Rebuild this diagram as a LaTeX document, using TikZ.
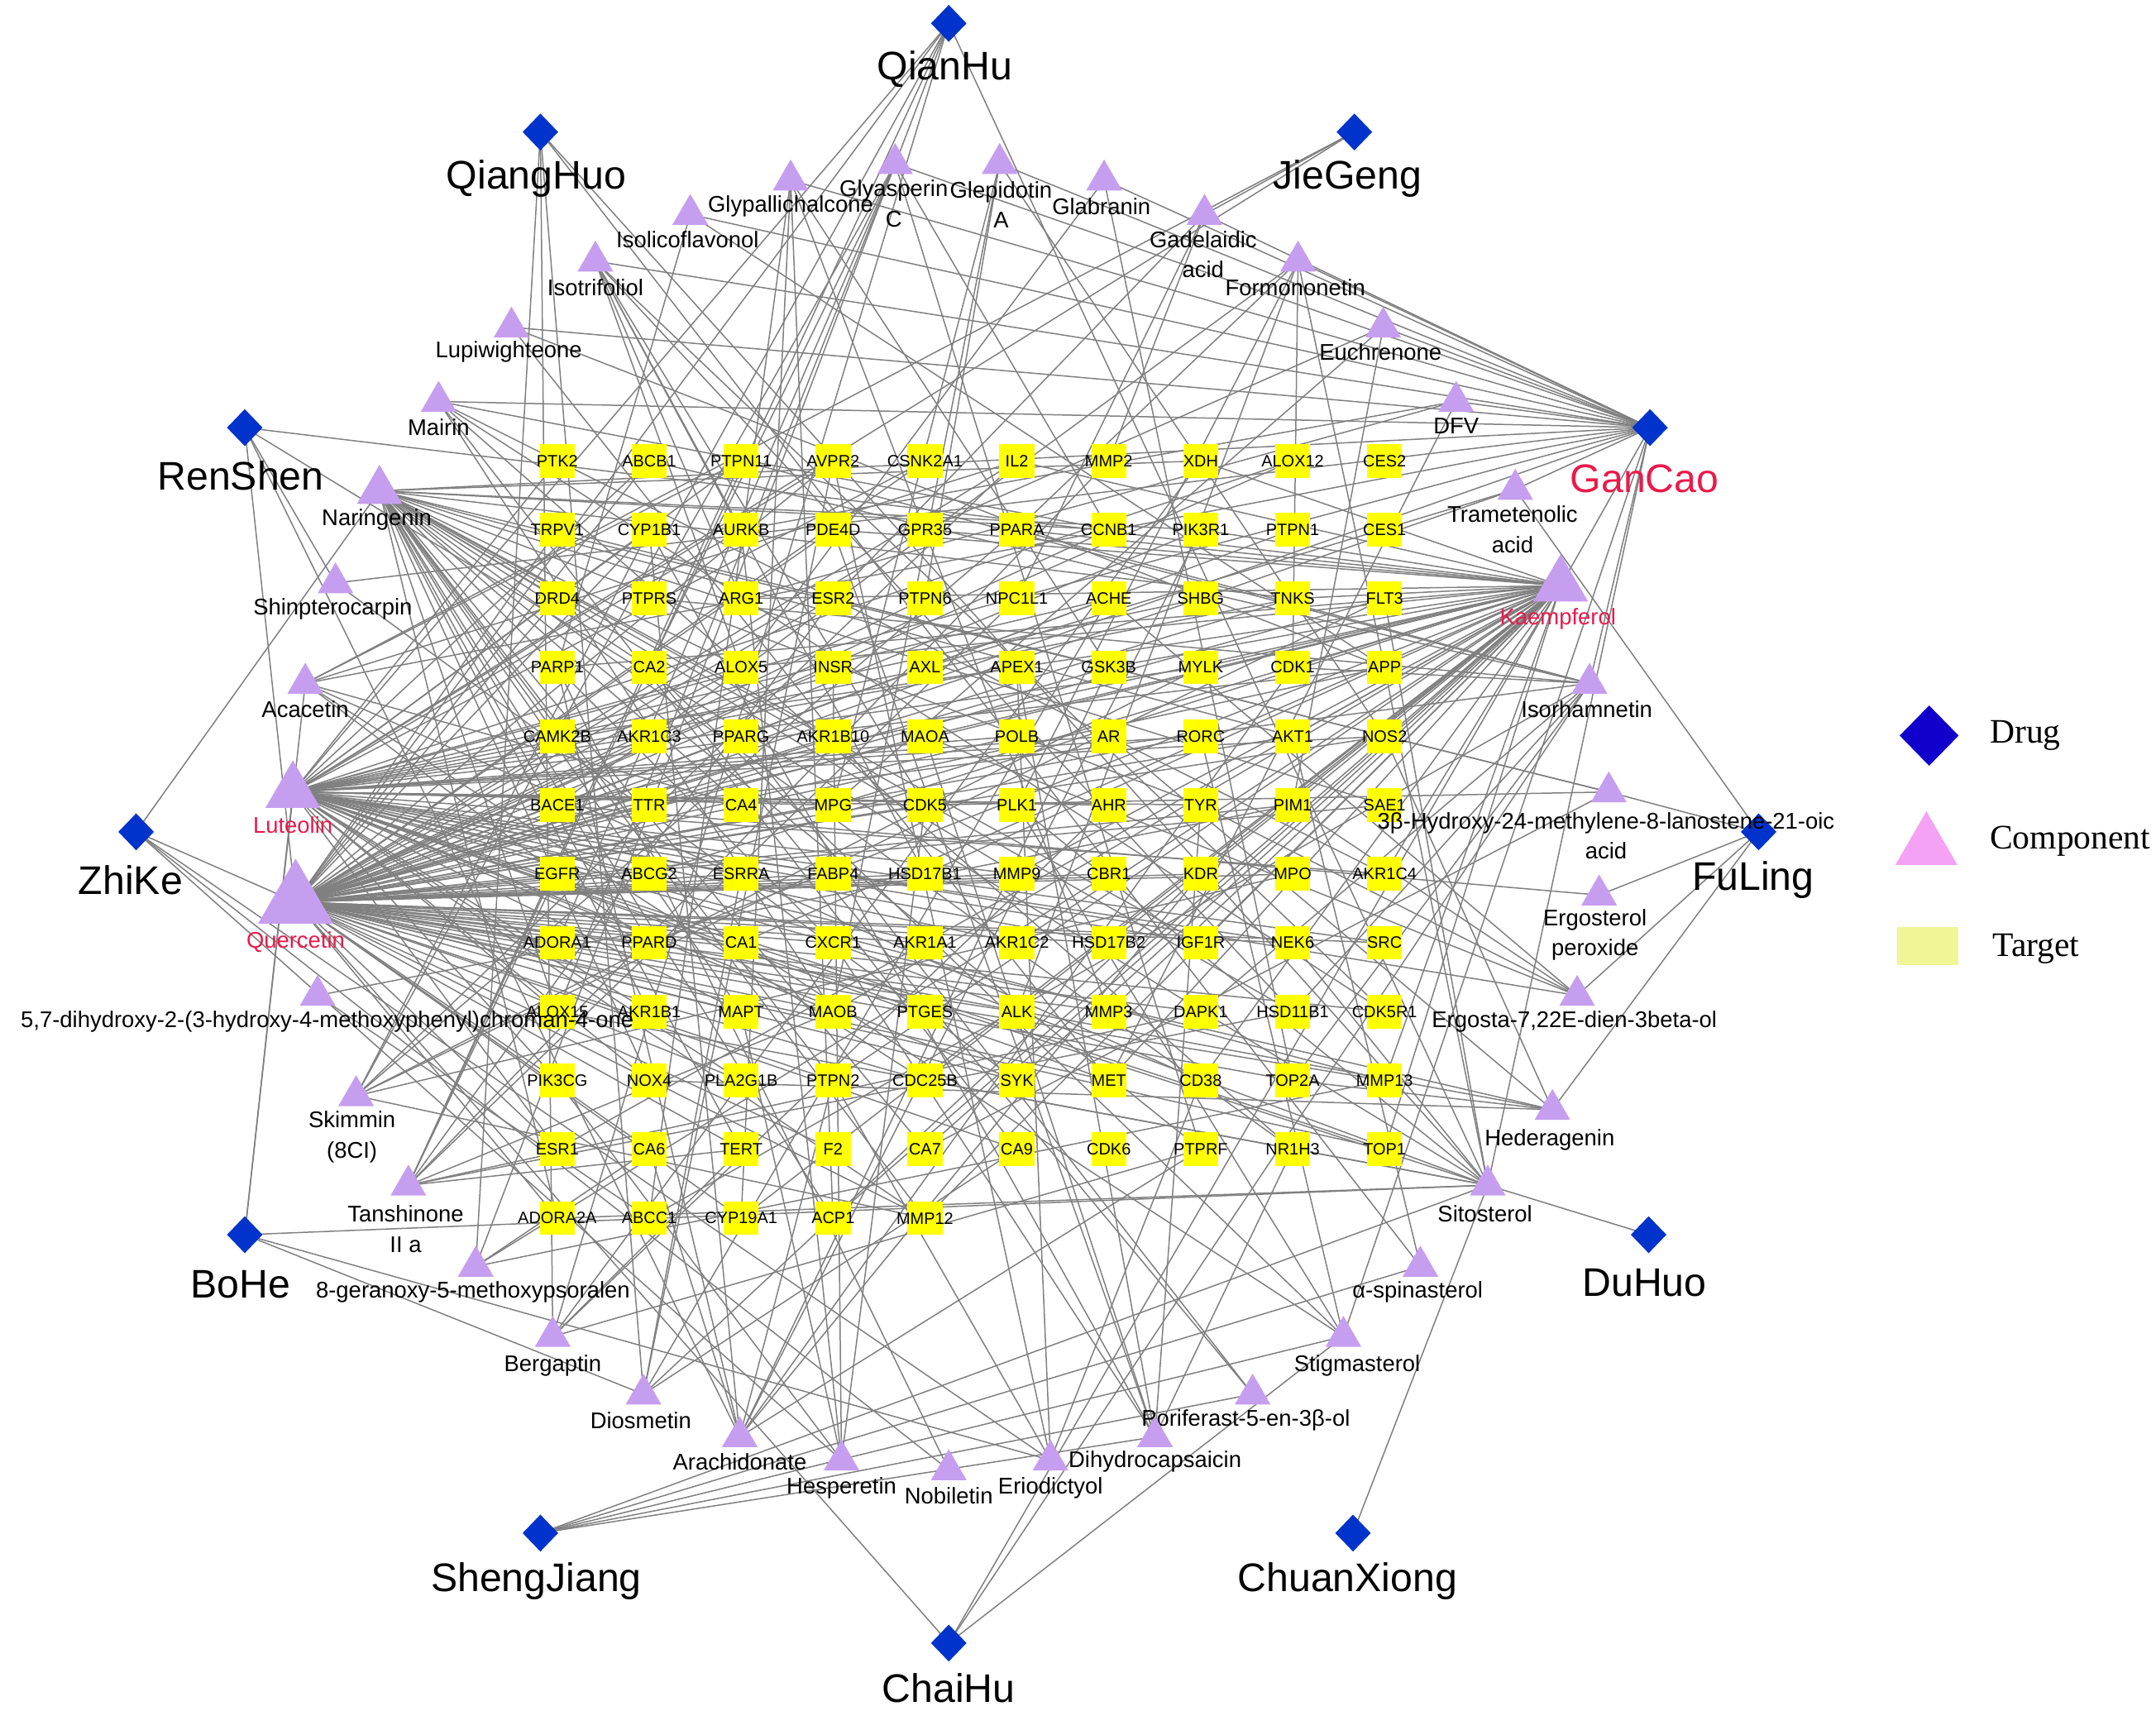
\documentclass[tikz,border=0pt]{standalone}
\usepackage{fontspec}
\setmainfont{Liberation Sans}
\newfontfamily\legendfont{Liberation Serif}
\usetikzlibrary{shapes.geometric,backgrounds}
\definecolor{drugblue}{RGB}{0,51,204}
\definecolor{legblue}{RGB}{17,0,204}
\definecolor{compviolet}{RGB}{198,158,240}
\definecolor{legpink}{RGB}{245,162,245}
\definecolor{tyellow}{RGB}{255,255,0}
\definecolor{legyellow}{RGB}{240,245,150}
\definecolor{hired}{RGB}{235,25,75}
\definecolor{edgegray}{RGB}{128,128,128}
\tikzset{
 drug/.style={diamond, fill=drugblue, inner sep=0pt, minimum width=26pt, minimum height=27pt},
 druglab/.style={font=\fontsize{29}{32}\selectfont, inner sep=0pt},
 comp/.style={regular polygon, regular polygon sides=3, fill=compviolet, inner sep=0pt, minimum size=#1},
 comp/.default=30pt,
 complab/.style={font=\fontsize{16.5}{22}\selectfont, inner sep=0pt, align=center},
 redlab/.style={complab, text=hired},
 tgt/.style={rectangle, fill=tyellow, inner sep=0pt, minimum width=25.5pt, minimum height=24.5pt},
 tlab/.style={font=\fontsize{12}{13}\selectfont, inner sep=0pt},
 link/.style={draw=edgegray, line width=0.9pt},
 legtext/.style={anchor=west, font=\legendfont\fontsize{25}{28}\selectfont, inner sep=0pt},
}
\newcommand\linkrand[2]{%
  \foreach \j in {1,...,115}{%
    \pgfmathtruncatemacro\hit{rnd<#2}%
    \ifnum\hit=1 \draw[link] (#1.center) -- (t\j.center);\fi
  }%
}
\begin{document}
\begin{tikzpicture}[x=1pt,y=-1pt]
\useasboundingbox (0,0) rectangle (1568,1244);
\begin{pgfonlayer}{background}
\fill[white] (0,0) rectangle (1568,1244);
\end{pgfonlayer}

% ---------- targets ----------
\foreach \tname [count=\i] in {PTK2,ABCB1,PTPN11,AVPR2,CSNK2A1,IL2,MMP2,XDH,ALOX12,CES2,
TRPV1,CYP1B1,AURKB,PDE4D,GPR35,PPARA,CCNB1,PIK3R1,PTPN1,CES1,
DRD4,PTPRS,ARG1,ESR2,PTPN6,NPC1L1,ACHE,SHBG,TNKS,FLT3,
PARP1,CA2,ALOX5,INSR,AXL,APEX1,GSK3B,MYLK,CDK1,APP,
CAMK2B,AKR1C3,PPARG,AKR1B10,MAOA,POLB,AR,RORC,AKT1,NOS2,
BACE1,TTR,CA4,MPG,CDK5,PLK1,AHR,TYR,PIM1,SAE1,
EGFR,ABCG2,ESRRA,FABP4,HSD17B1,MMP9,CBR1,KDR,MPO,AKR1C4,
ADORA1,PPARD,CA1,CXCR1,AKR1A1,AKR1C2,HSD17B2,IGF1R,NEK6,SRC,
ALOX15,AKR1B1,MAPT,MAOB,PTGES,ALK,MMP3,DAPK1,HSD11B1,CDK5R1,
PIK3CG,NOX4,PLA2G1B,PTPN2,CDC25B,SYK,MET,CD38,TOP2A,MMP13,
ESR1,CA6,TERT,F2,CA7,CA9,CDK6,PTPRF,NR1H3,TOP1,
ADORA2A,ABCC1,CYP19A1,ACP1,MMP12}{%
  \pgfmathsetmacro\tx{405.3+66.85*mod(\i-1,10)}%
  \pgfmathsetmacro\ty{335.2+50.07*floor((\i-1)/10)}%
  \node[tgt] (t\i) at (\tx,\ty) {};
  \node[tlab] (tl\i) at (t\i) {\tname};
}

% ---------- drugs ----------
\node[drug] (qianhu) at (690,17) {};      \node[druglab] (qianhu-l) at (687,50) {QianHu};
\node[drug] (qianghuo) at (393,96) {};    \node[druglab] (qianghuo-l) at (390,130) {QiangHuo};
\node[drug] (jiegeng) at (985,96) {};     \node[druglab] (jiegeng-l) at (980,130) {JieGeng};
\node[drug] (renshen) at (178,311) {};    \node[druglab] (renshen-l) at (175,346) {RenShen};
\node[drug] (gancao) at (1200,311) {};    \node[druglab, text=hired] (gancao-l) at (1196,348) {GanCao};
\node[drug] (zhike) at (99,605) {};       \node[druglab] (zhike-l) at (95,640) {ZhiKe};
\node[drug] (fuling) at (1279,605) {};    \node[druglab] (fuling-l) at (1275,640) {FuLing};
\node[drug] (bohe) at (178,898) {};       \node[druglab] (bohe-l) at (175,934) {BoHe};
\node[drug] (duhuo) at (1199,898) {};     \node[druglab] (duhuo-l) at (1196,933) {DuHuo};
\node[drug] (shengjiang) at (393,1115) {};\node[druglab] (shengjiang-l) at (390,1150) {ShengJiang};
\node[drug] (chuanxiong) at (984,1115) {};\node[druglab] (chuanxiong-l) at (980,1150) {ChuanXiong};
\node[drug] (chaihu) at (690,1195) {};    \node[druglab] (chaihu-l) at (690,1228) {ChaiHu};

% ---------- components ----------
\node[comp] (gly) at (575,131) {};   \node[complab] (gly-l) at (575,150) {Glypallichalcone};
\node[comp] (glyC) at (651,119) {};  \node[complab] (glyC-l) at (650,148) {Glyasperin\\C};
\node[comp] (glepA) at (727,119) {}; \node[complab] (glepA-l) at (728,149) {Glepidotin\\A};
\node[comp] (glab) at (803,131) {};  \node[complab] (glab-l) at (801,150) {Glabranin};
\node[comp] (gad) at (876,156) {};   \node[complab] (gad-l) at (875,185) {Gadelaidic\\acid};
\node[comp] (form) at (944,190) {};  \node[complab] (form-l) at (942,209) {Formononetin};
\node[comp] (euch) at (1006,238) {}; \node[complab] (euch-l) at (1004,256) {Euchrenone};
\node[comp] (dfv) at (1059,292) {};  \node[complab] (dfv-l) at (1059,310) {DFV};
\node[comp] (tram) at (1102,356) {}; \node[complab] (tram-l) at (1100,385) {Trametenolic\\acid};
\node[comp=46pt] (kaem) at (1135,426) {}; \node[redlab] (kaem-l) at (1133,450) {Kaempferol};
\node[comp] (isor) at (1156,497) {}; \node[complab] (isor-l) at (1154,516) {Isorhamnetin};
\node[comp] (hyd) at (1170,576) {};  \node[complab] (hyd-l) at (1168,608) {3β-Hydroxy-24-methylene-8-lanostene-21-oic\\acid};
\node[comp] (ergp) at (1163,651) {}; \node[complab] (ergp-l) at (1160,680) {Ergosterol\\peroxide};
\node[comp] (ergo) at (1147,724) {}; \node[complab] (ergo-l) at (1145,743) {Ergosta-7,22E-dien-3beta-ol};
\node[comp] (hede) at (1129,807) {}; \node[complab] (hede-l) at (1127,829) {Hederagenin};
\node[comp] (sito) at (1082,862) {}; \node[complab] (sito-l) at (1080,883) {Sitosterol};
\node[comp] (spin) at (1033,921) {}; \node[complab] (spin-l) at (1031,940) {α-spinasterol};
\node[comp] (stig) at (977,972) {};  \node[complab] (stig-l) at (987,993) {Stigmasterol};
\node[comp] (pori) at (911,1014) {}; \node[complab] (pori-l) at (906,1033) {Poriferast-5-en-3β-ol};
\node[comp] (dihy) at (840,1045) {}; \node[complab] (dihy-l) at (840,1063) {Dihydrocapsaicin};
\node[comp] (erio) at (764,1062) {}; \node[complab] (erio-l) at (764,1082) {Eriodictyol};
\node[comp] (nobi) at (690,1069) {}; \node[complab] (nobi-l) at (690,1088) {Nobiletin};
\node[comp] (hesp) at (612,1062) {}; \node[complab] (hesp-l) at (612,1082) {Hesperetin};
\node[comp] (arac) at (538,1045) {}; \node[complab] (arac-l) at (538,1063) {Arachidonate};
\node[comp] (dios) at (468,1014) {}; \node[complab] (dios-l) at (466,1033) {Diosmetin};
\node[comp] (berg) at (402,972) {};  \node[complab] (berg-l) at (402,993) {Bergaptin};
\node[comp] (gera) at (346,921) {};  \node[complab] (gera-l) at (344,940) {8-geranoxy-5-methoxypsoralen};
\node[comp] (tans) at (297,862) {};  \node[complab] (tans-l) at (295,894) {Tanshinone\\II a};
\node[comp] (skim) at (259,797) {};  \node[complab] (skim-l) at (256,827) {Skimmin\\(8CI)};
\node[comp] (dhm) at (231,724) {};   \node[complab] (dhm-l) at (238,743) {5,7-dihydroxy-2-(3-hydroxy-4-methoxyphenyl)chroman-4-one};
\node[comp=63pt] (quer) at (215,656) {}; \node[redlab] (quer-l) at (215,685) {Quercetin};
\node[comp=46pt] (lute) at (213,576) {}; \node[redlab] (lute-l) at (213,600) {Luteolin};
\node[comp] (acac) at (222,497) {};  \node[complab] (acac-l) at (222,516) {Acacetin};
\node[comp] (shin) at (244,424) {};  \node[complab] (shin-l) at (242,443) {Shinpterocarpin};
\node[comp=38pt] (nari) at (276,357) {}; \node[complab] (nari-l) at (274,378) {Naringenin};
\node[comp] (mair) at (319,292) {};  \node[complab] (mair-l) at (319,311) {Mairin};
\node[comp] (lupi) at (372,238) {};  \node[complab] (lupi-l) at (370,256) {Lupiwighteone};
\node[comp] (isot) at (433,190) {};  \node[complab] (isot-l) at (433,209) {Isotrifoliol};
\node[comp] (isol) at (502,156) {};  \node[complab] (isol-l) at (500,174) {Isolicoflavonol};

% ---------- legend ----------
\node[diamond, fill=legblue, inner sep=0pt, minimum width=43pt, minimum height=44pt] (lg-drug) at (1403,535) {};
\node[legtext] (lg-drug-l) at (1447,535) {Drug};
\node[regular polygon, regular polygon sides=3, fill=legpink, inner sep=0pt, minimum size=52pt] (lg-comp) at (1401,616) {};
\node[legtext] (lg-comp-l) at (1447,612) {Component};
\node[rectangle, fill=legyellow, inner sep=0pt, minimum width=44pt, minimum height=28pt] (lg-tgt) at (1402,688) {};
\node[legtext] (lg-tgt-l) at (1449,690) {Target};

% ---------- edges ----------
\begin{pgfonlayer}{background}
\foreach \a/\b in {qianhu/lute, qianhu/quer, qianhu/skim, qianhu/tans, qianhu/gera, qianhu/berg, qianhu/sito,
 qianghuo/gera, qianghuo/berg, qianghuo/dios, qianghuo/sito, qianghuo/spin,
 jiegeng/gad, jiegeng/lute, jiegeng/acac,
 renshen/kaem, renshen/quer, renshen/shin, renshen/arac, renshen/sito,
 zhike/nari, zhike/quer, zhike/nobi, zhike/hesp, zhike/erio,
 fuling/tram, fuling/hyd, fuling/ergp, fuling/ergo, fuling/hede,
 bohe/acac, bohe/lute, bohe/sito, bohe/dios, bohe/erio,
 duhuo/sito,
 shengjiang/stig, shengjiang/pori, shengjiang/dihy, shengjiang/sito, shengjiang/spin,
 chuanxiong/sito,
 chaihu/quer, chaihu/kaem, chaihu/isor, chaihu/stig,
 gancao/isol, gancao/isot, gancao/lupi, gancao/mair, gancao/gly, gancao/glyC, gancao/glepA,
 gancao/glab, gancao/form, gancao/euch, gancao/dfv, gancao/shin, gancao/nari, gancao/kaem,
 gancao/quer, gancao/isor, gancao/sito, gancao/stig, gancao/tram, gancao/gad, gancao/lute, gancao/acac}
 {\draw[link] (\a.center) -- (\b.center);}
\pgfmathsetseed{4711}
\linkrand{quer}{0.70}
\linkrand{lute}{0.45}
\linkrand{kaem}{0.45}
\linkrand{nari}{0.30}
\linkrand{isor}{0.09}
\linkrand{form}{0.07}
\linkrand{acac}{0.07}
\linkrand{tans}{0.08}
\linkrand{dios}{0.06}
\linkrand{hesp}{0.05}
\linkrand{sito}{0.06}
\linkrand{hede}{0.05}
\linkrand{stig}{0.04}
\linkrand{erio}{0.05}
\foreach \c in {gly,glyC,glepA,glab,gad,euch,dfv,tram,hyd,ergp,ergo,spin,pori,dihy,nobi,arac,berg,gera,skim,dhm,shin,mair,lupi,isot,isol}{%
  \linkrand{\c}{0.035}
}
\end{pgfonlayer}
\end{tikzpicture}
\end{document}
